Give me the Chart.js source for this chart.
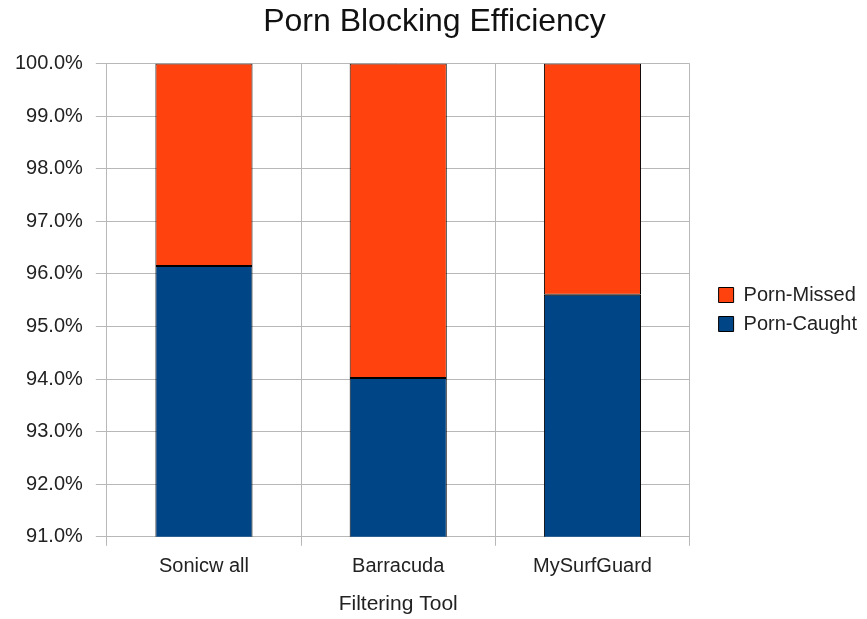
<!doctype html>
<html lang="en">
<head>
    <meta charset="UTF-8">
    <title>Porn Blocking Efficiency</title>
    <script src="https://cdn.jsdelivr.net/npm/chart.js"></script>
    <style>
        body { margin: 0; background: #fff; }
    </style>
</head>
<body>
    <canvas id="chart" width="867" height="619"></canvas>

    <script>
        const tools = ['Sonicw all', 'Barracuda', 'MySurfGuard'];
        const caught = [96.15, 94.02, 95.6];
        const missed = [3.85, 5.98, 4.4];

        // space between the plot and the legend (chart.js puts them edge to edge)
        const legendGap = 20;
        const gapPlugin = {
            id: 'legendGap',
            beforeInit(chart) {
                const fit = chart.legend.fit;
                chart.legend.fit = function () {
                    fit.call(this);
                    this.width += legendGap;
                };
            },
            afterLayout(chart) {
                chart.legend.left += legendGap;
            }
        };

        const font = { family: 'Liberation Sans', size: 20 };

        const ctx = document.getElementById('chart').getContext('2d');
        new Chart(ctx, {
            type: 'bar',
            data: {
                labels: tools,
                datasets: [{
                    label: 'Porn-Caught',
                    data: caught,
                    backgroundColor: '#004586',
                    borderColor: '#000000',
                    borderWidth: 1,
                    borderSkipped: false
                }, {
                    label: 'Porn-Missed',
                    data: missed,
                    backgroundColor: '#ff420e',
                    borderColor: '#000000',
                    borderWidth: 1,
                    borderSkipped: false
                }]
            },
            plugins: [gapPlugin],
            options: {
                responsive: false,
                animation: false,
                layout: { padding: { top: 0, right: 0, left: 2, bottom: 0 } },
                datasets: { bar: { categoryPercentage: 1, barPercentage: 0.5 } },
                plugins: {
                    title: {
                        display: true,
                        text: 'Porn Blocking Efficiency',
                        color: '#111',
                        font: { family: 'Liberation Sans', size: 32, weight: 'normal' },
                        padding: { top: 3, bottom: 22 }
                    },
                    legend: {
                        position: 'right',
                        reverse: true,
                        labels: {
                            color: '#222',
                            boxWidth: 15,
                            boxHeight: 15,
                            padding: 9,
                            font: font
                        }
                    },
                    tooltip: { enabled: false }
                },
                scales: {
                    x: {
                        stacked: true,
                        grid: { color: '#b8b8b8', offset: true, tickLength: 9 },
                        border: { color: '#b8b8b8' },
                        ticks: { color: '#222', padding: 9, font: font },
                        title: {
                            display: true,
                            text: 'Filtering Tool',
                            color: '#222',
                            font: { family: 'Liberation Sans', size: 21 },
                            padding: { top: 4, bottom: 2 }
                        }
                    },
                    y: {
                        stacked: true,
                        min: 91,
                        max: 100,
                        grid: { color: '#b8b8b8', tickLength: 11 },
                        border: { color: '#b8b8b8' },
                        ticks: {
                            stepSize: 1,
                            color: '#222',
                            padding: 13,
                            font: font,
                            callback: v => v.toFixed(1) + '%'
                        }
                    }
                }
            }
        });
    </script>
</body>
</html>
